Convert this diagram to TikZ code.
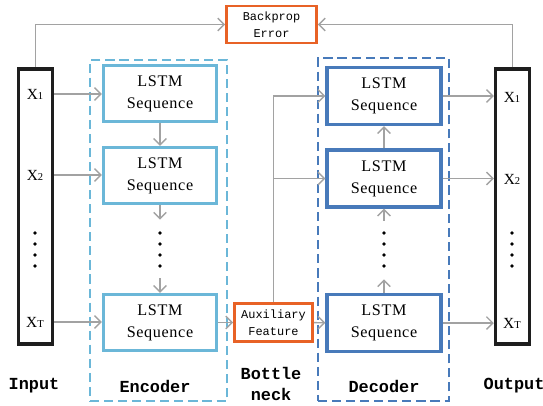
\documentclass[tikz,border=0pt]{standalone}
\usepackage{fontspec}
\setmainfont{Liberation Serif}
\newfontfamily\monofont{Liberation Mono}
\newfontfamily\cellfont[LetterSpace=4]{Liberation Serif}
\usepackage{tikz}
\usetikzlibrary{arrows.meta, positioning, calc}
\definecolor{mylightblue}{RGB}{107,183,216}
\definecolor{mydarkblue}{RGB}{72,122,186}
\definecolor{myorange}{RGB}{232,98,38}
\definecolor{mygray}{RGB}{162,162,162}
\definecolor{mydark}{RGB}{30,30,30}
\newcommand{\idx}[1]{{\fontsize{7.5}{8}\selectfont #1}}
\tikzset{
  encblock/.style={rectangle, draw=mylightblue, line width=2.3pt,
    minimum width=28.25mm, minimum height=14mm, inner sep=0pt,
    align=center, font=\cellfont\fontsize{11.5}{15.5}\selectfont},
  decblock/.style={encblock, draw=mydarkblue,
    minimum width=28.5mm, minimum height=14.25mm},
  orangeblock/.style={rectangle, draw=myorange, line width=2pt,
    inner sep=0pt, align=center,
    font=\monofont\fontsize{8.5}{12}\selectfont},
  groupbox/.style={rectangle, line width=0.9pt,
    dash pattern=on 6.5pt off 3.5pt},
  bar/.style={rectangle, draw=mydark, line width=2.5pt,
    minimum width=8.5mm, minimum height=68.75mm},
  xlabel/.style={inner sep=0pt, font=\fontsize{11}{12}\selectfont},
  dotgap/.style={inner sep=0pt, minimum width=2mm, minimum height=14.5mm},
  caption/.style={align=center, font=\monofont\bfseries\fontsize{12}{15}\selectfont},
  arrow/.style={-{Straight Barb[length=4.5pt,width=9pt]}, line width=1pt, color=mygray},
  line/.style={line width=1pt, color=mygray}
}

\begin{document}
\begin{tikzpicture}[x=0.25mm, y=-0.25mm]
  \useasboundingbox (0,0) rectangle (543,405);

  % dashed frames round encoder and decoder
  \node[groupbox, draw=mylightblue, minimum width=34.25mm, minimum height=85.25mm] (encoder) at (158.5,230.5) {};
  \node[groupbox, draw=mydarkblue, minimum width=32.75mm, minimum height=85.75mm] (decoder) at (383.5,229.5) {};

  % input / output sequences
  \node[bar] (inbar) at (35.5,206.5) {};
  \node[bar] (outbar) at (512.5,206.5) {};
  \foreach \side/\x/\ya/\yb/\yc in {in/35/94/175/322, out/512/97/179/323} {
    \node[xlabel] (\side1) at (\x,\ya) {X\idx{1}};
    \node[xlabel] (\side2) at (\x,\yb) {X\idx{2}};
    \node[xlabel] (\side3) at (\x,\yc) {X\idx{T}};
    \foreach \y in {233,244,255,266}
      \fill (\x,\y) circle (0.45mm);
  }

  % encoder
  \node[encblock] (enc1) at (160,93.5) {LSTM\\Sequence};
  \node[encblock] (enc2) at (160,175.5) {LSTM\\Sequence};
  \node[dotgap] (encdots) at (160,249) {};
  \node[encblock] (enc3) at (160,322.5) {LSTM\\Sequence};

  % decoder
  \node[decblock] (dec1) at (384,96) {LSTM\\Sequence};
  \node[decblock] (dec2) at (384,178.5) {LSTM\\Sequence};
  \node[dotgap] (decdots) at (384,250) {};
  \node[decblock] (dec3) at (384,323) {LSTM\\Sequence};
  \foreach \y in {233,244,255,266} {
    \fill (160,\y) circle (0.45mm);
    \fill (384,\y) circle (0.45mm);
  }

  % bottleneck and error
  \node[orangeblock, minimum width=19.5mm, minimum height=9.5mm] (aux) at (273.5,322.5) {Auxiliary\\Feature};
  \node[orangeblock, minimum width=22.5mm, minimum height=9.25mm] (bp) at (271.5,24.5) {Backprop\\Error};

  % connections
  \foreach \i in {1,2,3} {
    \draw[arrow] (inbar.east |- in\i) -- (enc\i.west |- in\i);
    \draw[arrow] (dec\i.east) -- (outbar.west |- dec\i.east);
  }
  \draw[arrow] (enc1) -- (enc2);
  \draw[arrow] (enc2) -- (encdots);
  \draw[arrow] (encdots) -- (enc3);
  \draw[arrow] (dec3) -- (decdots);
  \draw[arrow] (decdots) -- (dec2);
  \draw[arrow] (dec2) -- (dec1);
  \draw[arrow] (enc3) -- (aux);
  \draw[arrow] (aux) -- (dec3);
  \draw[arrow] (aux.north) |- (dec1.west);
  \draw[arrow] (aux.north |- dec2.west) -- (dec2.west);
  \draw[arrow] (inbar.north) |- (bp.west);
  \draw[arrow] (outbar.north) |- (bp.east);

  % captions
  \node[caption] (inlbl) at (34,386) {Input};
  \node[caption] (enclbl) at (155,386) {Encoder};
  \node[caption] (botlbl) at (271,384) {Bottle\\neck};
  \node[caption] (declbl) at (384,386) {Decoder};
  \node[caption] (outlbl) at (514,386) {Output};
\end{tikzpicture}
\end{document}
